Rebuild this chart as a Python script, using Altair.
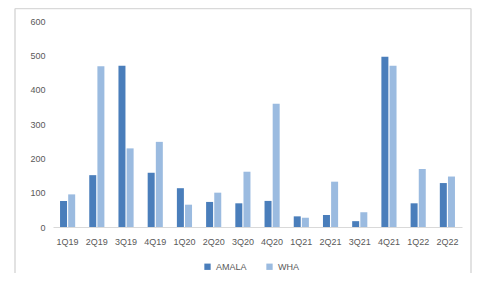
import altair as alt
import pandas as pd

quarters = ["1Q19", "2Q19", "3Q19", "4Q19", "1Q20", "2Q20", "3Q20", "4Q20",
            "1Q21", "2Q21", "3Q21", "4Q21", "1Q22", "2Q22"]
amala = [76, 151, 470, 158, 113, 73, 69, 76, 31, 35, 17, 496, 69, 128]
wha = [95, 468, 229, 248, 65, 100, 161, 359, 27, 132, 43, 470, 169, 147]
series = ["AMALA", "WHA"]
colors = ["#4a7ebb", "#9bbbe0"]

rows = []
for q, a, w in zip(quarters, amala, wha):
    rows.append({"q": q, "s": "AMALA", "v": a})
    rows.append({"q": q, "s": "WHA", "v": w})
df = pd.DataFrame(rows)

FONT = "Liberation Sans"
one = pd.DataFrame({"a": [0]})
frame_style = dict(stroke="#d9d9d9", strokeWidth=1.5, clip=False)

left_line = alt.Chart(one).mark_rule(**frame_style).encode(
    x=alt.value(-38), y=alt.value(-12.5), y2=alt.value(260))
right_line = alt.Chart(one).mark_rule(**frame_style).encode(
    x=alt.value(418), y=alt.value(-12.5), y2=alt.value(260))
top_line = alt.Chart(one).mark_rule(**frame_style).encode(
    x=alt.value(-38), x2=alt.value(418), y=alt.value(-12.5))

bars = alt.Chart(df).mark_bar(size=7).encode(
    x=alt.X("q:N", sort=quarters, title=None,
            scale=alt.Scale(paddingInner=0.47, paddingOuter=0.235),
            axis=alt.Axis(labelAngle=0, ticks=False, domainColor="#d9d9d9",
                          labelColor="#595959", labelFont=FONT, labelFontSize=9,
                          labelPadding=10, grid=False)),
    xOffset=alt.XOffset("s:N", sort=series, scale=alt.Scale(paddingInner=0.1)),
    y=alt.Y("v:Q", title=None,
            scale=alt.Scale(domain=[0, 600]),
            axis=alt.Axis(values=[0, 100, 200, 300, 400, 500, 600], ticks=False,
                          domain=False, grid=False, labelColor="#595959",
                          labelFont=FONT, labelFontSize=9, labelPadding=8)),
    color=alt.Color("s:N", sort=series, title=None,
                    scale=alt.Scale(domain=series, range=colors),
                    legend=alt.Legend(orient="none", direction="horizontal",
                                      legendX=150, legendY=241,
                                      symbolType="square", symbolSize=40,
                                      symbolStrokeWidth=0,
                                      labelFont=FONT, labelFontSize=9,
                                      labelColor="#595959", columnPadding=18)),
)

chart = alt.layer(left_line, right_line, top_line, bars).properties(
    width=409, height=206,
    autosize=alt.AutoSizeParams(type="none"),
    padding={"left": 45, "top": 13, "right": 10, "bottom": 46},
).configure_view(stroke=None)

chart.save("out.html", embed_options={"renderer": "svg", "actions": False})
